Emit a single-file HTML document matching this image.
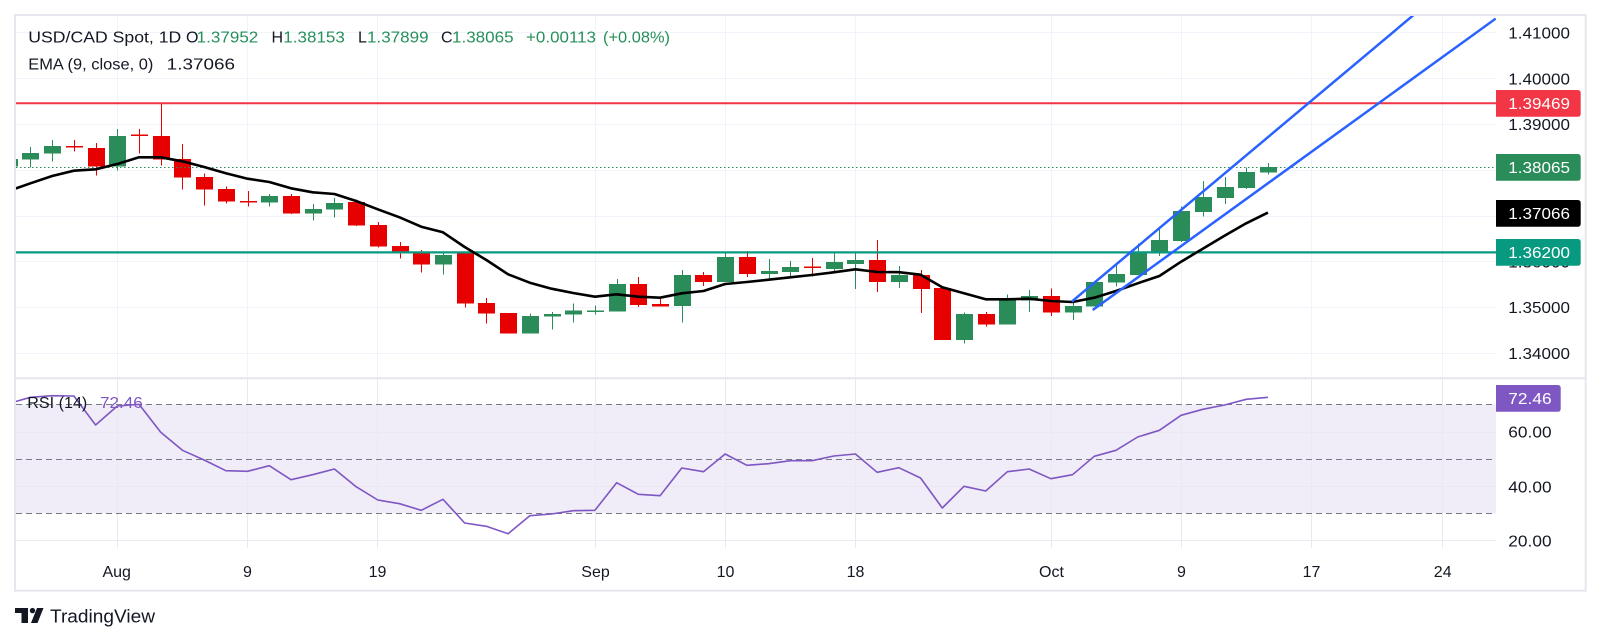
<!DOCTYPE html>
<html>
<head>
<meta charset="utf-8">
<style>
html,body{margin:0;padding:0;background:#fff;}
svg{display:block;}
text{font-family:"Liberation Sans",sans-serif;}
</style>
</head>
<body>
<svg width="1601" height="644" viewBox="0 0 1601 644" xmlns="http://www.w3.org/2000/svg">
<defs>
<clipPath id="plot"><rect x="16" y="16" width="1480" height="361"/></clipPath>
<clipPath id="rsi"><rect x="16" y="379" width="1480" height="169"/></clipPath>
</defs>
<rect x="0" y="0" width="1601" height="644" fill="#fff"/>

<!-- grid main -->
<g stroke="#f0f3fa" stroke-width="1" shape-rendering="crispEdges">
<line x1="16" y1="32.5" x2="1496" y2="32.5"/>
<line x1="16" y1="78.5" x2="1496" y2="78.5"/>
<line x1="16" y1="124.5" x2="1496" y2="124.5"/>
<line x1="16" y1="170.5" x2="1496" y2="170.5"/>
<line x1="16" y1="216.5" x2="1496" y2="216.5"/>
<line x1="16" y1="261.5" x2="1496" y2="261.5"/>
<line x1="16" y1="307.5" x2="1496" y2="307.5"/>
<line x1="16" y1="353.5" x2="1496" y2="353.5"/>
<line x1="117.5" y1="16" x2="117.5" y2="377"/>
<line x1="247.5" y1="16" x2="247.5" y2="377"/>
<line x1="377.5" y1="16" x2="377.5" y2="377"/>
<line x1="595.5" y1="16" x2="595.5" y2="377"/>
<line x1="725.5" y1="16" x2="725.5" y2="377"/>
<line x1="855.5" y1="16" x2="855.5" y2="377"/>
<line x1="1051.5" y1="16" x2="1051.5" y2="377"/>
<line x1="1181.5" y1="16" x2="1181.5" y2="377"/>
<line x1="1311.5" y1="16" x2="1311.5" y2="377"/>
<line x1="1442.5" y1="16" x2="1442.5" y2="377"/>
</g>

<!-- RSI band & grid -->
<rect x="16" y="404.3" width="1480" height="109" fill="#f0ecf8"/>
<g stroke="#ebe8f2" stroke-width="1" shape-rendering="crispEdges">
<line x1="16" y1="432.5" x2="1496" y2="432.5"/>
<line x1="16" y1="486.5" x2="1496" y2="486.5"/>
<line x1="16" y1="540.5" x2="1496" y2="540.5"/>
<line x1="117.5" y1="379" x2="117.5" y2="548"/>
<line x1="247.5" y1="379" x2="247.5" y2="548"/>
<line x1="377.5" y1="379" x2="377.5" y2="548"/>
<line x1="595.5" y1="379" x2="595.5" y2="548"/>
<line x1="725.5" y1="379" x2="725.5" y2="548"/>
<line x1="855.5" y1="379" x2="855.5" y2="548"/>
<line x1="1051.5" y1="379" x2="1051.5" y2="548"/>
<line x1="1181.5" y1="379" x2="1181.5" y2="548"/>
<line x1="1311.5" y1="379" x2="1311.5" y2="548"/>
<line x1="1442.5" y1="379" x2="1442.5" y2="548"/>
</g>
<g stroke="#787b86" stroke-width="1" stroke-dasharray="6 4" shape-rendering="crispEdges">
<line x1="16" y1="404.5" x2="1496" y2="404.5"/>
<line x1="16" y1="459.5" x2="1496" y2="459.5"/>
<line x1="16" y1="513.5" x2="1496" y2="513.5"/>
</g>

<!-- candles -->
<g clip-path="url(#plot)" shape-rendering="crispEdges">
<g fill="#2a8c58">
<rect x="9" y="157" width="1" height="11"/><rect x="1" y="159" width="17" height="7.7"/>
<rect x="30" y="147" width="1" height="20.7"/><rect x="22" y="153" width="17" height="6.7"/>
<rect x="52" y="140" width="1" height="21.7"/><rect x="44" y="146" width="17" height="7.7"/>
<rect x="117" y="129" width="1" height="41.7"/><rect x="109" y="136" width="17" height="30.7"/>
<rect x="269" y="194" width="1" height="12.7"/><rect x="261" y="196" width="17" height="6.7"/>
<rect x="313" y="204" width="1" height="16.7"/><rect x="305" y="209" width="17" height="4.7"/>
<rect x="334" y="198" width="1" height="19.7"/><rect x="326" y="203" width="17" height="6.7"/>
<rect x="443" y="253.3" width="1" height="21.4"/><rect x="435" y="255" width="17" height="9.7"/>
<rect x="530" y="313.3" width="1" height="20.4"/><rect x="522" y="316" width="17" height="17.7"/>
<rect x="552" y="312" width="1" height="17.7"/><rect x="544" y="314" width="17" height="2.7"/>
<rect x="573" y="303.3" width="1" height="19.4"/><rect x="565" y="310.7" width="17" height="4"/>
<rect x="595" y="305.3" width="1" height="9.4"/><rect x="587" y="310.7" width="17" height="1.5"/>
<rect x="617" y="279" width="1" height="32.7"/><rect x="609" y="284" width="17" height="27.7"/>
<rect x="682" y="270" width="1" height="52.7"/><rect x="674" y="275" width="17" height="31"/>
<rect x="725" y="253.7" width="1" height="28.3"/><rect x="717" y="257" width="17" height="25"/>
<rect x="769" y="259" width="1" height="19.3"/><rect x="761" y="271" width="17" height="3"/>
<rect x="790" y="261" width="1" height="17.3"/><rect x="782" y="267" width="17" height="5"/>
<rect x="834" y="253.3" width="1" height="17.7"/><rect x="826" y="262" width="17" height="7"/>
<rect x="855" y="253.3" width="1" height="35.7"/><rect x="847" y="260" width="17" height="4"/>
<rect x="899" y="266" width="1" height="22"/><rect x="891" y="275" width="17" height="7"/>
<rect x="964" y="312.7" width="1" height="30.6"/><rect x="956" y="314" width="17" height="26"/>
<rect x="1007" y="294.7" width="1" height="30"/><rect x="999" y="300" width="17" height="24.7"/>
<rect x="1029" y="290" width="1" height="22"/><rect x="1021" y="296" width="17" height="4.7"/>
<rect x="1073" y="300.7" width="1" height="19.3"/><rect x="1065" y="306" width="17" height="6.7"/>
<rect x="1094" y="282" width="1" height="24.7"/><rect x="1086" y="282" width="17" height="24.7"/>
<rect x="1116" y="265.3" width="1" height="21.4"/><rect x="1108" y="274" width="17" height="8.7"/>
<rect x="1138" y="243.3" width="1" height="31.7"/><rect x="1130" y="251.3" width="17" height="23.7"/>
<rect x="1159" y="228.7" width="1" height="27.3"/><rect x="1151" y="240" width="17" height="13.3"/>
<rect x="1181" y="206.7" width="1" height="35.3"/><rect x="1173" y="211" width="17" height="30"/>
<rect x="1203" y="181" width="1" height="35.7"/><rect x="1195" y="197" width="17" height="15"/>
<rect x="1225" y="177" width="1" height="27"/><rect x="1217" y="187" width="17" height="11"/>
<rect x="1246" y="167.3" width="1" height="21.7"/><rect x="1238" y="172" width="17" height="16"/>
<rect x="1268" y="163" width="1" height="11.7"/><rect x="1260" y="167" width="17" height="5.3"/>
</g>
<g fill="#e60000">
<rect x="74" y="140" width="1" height="11.7"/><rect x="66" y="146" width="17" height="1.7"/>
<rect x="96" y="143" width="1" height="32.7"/><rect x="88" y="148" width="17" height="18.7"/>
<rect x="139" y="129" width="1" height="24.7"/><rect x="131" y="134.5" width="17" height="1.5"/>
<rect x="161" y="103.3" width="1" height="62.4"/><rect x="153" y="136" width="17" height="23.7"/>
<rect x="182" y="144" width="1" height="45.7"/><rect x="174" y="159" width="17" height="18.7"/>
<rect x="204" y="173.7" width="1" height="32"/><rect x="196" y="177" width="17" height="12.7"/>
<rect x="226" y="186.3" width="1" height="17.4"/><rect x="218" y="189" width="17" height="12.7"/>
<rect x="248" y="191" width="1" height="15.7"/><rect x="240" y="201" width="17" height="1.7"/>
<rect x="291" y="194" width="1" height="20"/><rect x="283" y="196" width="17" height="17.7"/>
<rect x="356" y="199.3" width="1" height="26.7"/><rect x="348" y="202" width="17" height="23.7"/>
<rect x="378" y="222" width="1" height="25.7"/><rect x="370" y="225" width="17" height="21.7"/>
<rect x="400" y="242" width="1" height="16.7"/><rect x="392" y="246" width="17" height="6.7"/>
<rect x="421" y="250" width="1" height="22.7"/><rect x="413" y="252" width="17" height="12.7"/>
<rect x="465" y="252.7" width="1" height="55"/><rect x="457" y="253.3" width="17" height="50.4"/>
<rect x="486" y="298" width="1" height="25.7"/><rect x="478" y="303" width="17" height="10.7"/>
<rect x="508" y="313" width="1" height="20.7"/><rect x="500" y="313" width="17" height="20.7"/>
<rect x="638" y="277" width="1" height="30"/><rect x="630" y="284" width="17" height="21"/>
<rect x="660" y="296.7" width="1" height="10"/><rect x="652" y="304" width="17" height="2.7"/>
<rect x="703" y="272" width="1" height="14"/><rect x="695" y="275" width="17" height="7"/>
<rect x="747" y="251" width="1" height="26"/><rect x="739" y="257" width="17" height="17"/>
<rect x="812" y="258" width="1" height="18.7"/><rect x="804" y="266.7" width="17" height="1.5"/>
<rect x="877" y="240" width="1" height="52"/><rect x="869" y="260" width="17" height="22"/>
<rect x="921" y="270" width="1" height="43"/><rect x="913" y="275" width="17" height="14"/>
<rect x="942" y="288" width="1" height="52"/><rect x="934" y="288" width="17" height="52"/>
<rect x="986" y="312" width="1" height="14.7"/><rect x="978" y="314" width="17" height="10.7"/>
<rect x="1051" y="288.7" width="1" height="27.3"/><rect x="1043" y="296" width="17" height="16.7"/>
</g>
</g>

<!-- horizontal levels -->
<line x1="16" y1="103.3" x2="1496" y2="103.3" stroke="#f23645" stroke-width="2"/>
<line x1="16" y1="252.4" x2="1496" y2="252.4" stroke="#089981" stroke-width="2.2"/>
<line x1="16" y1="167.5" x2="1496" y2="167.5" stroke="#2a8c58" stroke-width="1" stroke-dasharray="1.5 2.5"/>

<!-- EMA -->
<g clip-path="url(#plot)">
<polyline fill="none" stroke="#000" stroke-width="2.6" stroke-linejoin="round" points="8.75,191 30.46,183.3 52.17,176 73.88,170.7 95.59,169.3 117.3,164 139.01,157.3 160.72,157.3 182.43,161.3 204.14,167 225.85,173.3 247.56,178.7 269.27,182 290.98,188.3 312.69,192.3 334.4,194 356.11,201 377.82,209.3 399.53,217.3 421.24,226.7 442.95,232.3 464.66,247 486.37,260 508.08,274.3 529.79,282.7 551.5,288.7 573.21,293 594.92,296.7 616.63,294.3 638.34,296.7 660.05,297.7 681.76,293.3 703.47,291 725.18,284 746.89,282 768.6,279.7 790.31,277.3 812.02,275 833.73,272.3 855.44,269.3 877.15,272 898.86,272.2 920.57,274.7 942.28,287.2 963.99,293.3 985.7,299.3 1007.41,299.3 1029.12,298.7 1050.83,301 1072.54,302 1094.25,297.7 1115.96,291 1137.67,283.3 1159.38,276 1181.09,261.7 1202.8,248.7 1224.51,235.7 1246.22,223.3 1267.93,212.6"/>
<!-- channel -->
<line x1="1071.7" y1="301.7" x2="1413.6" y2="15" stroke="#2962ff" stroke-width="2.5"/>
<line x1="1092.7" y1="310" x2="1495.7" y2="18.6" stroke="#2962ff" stroke-width="2.5"/>
</g>

<!-- RSI line -->
<g clip-path="url(#rsi)">
<polyline fill="none" stroke="#7e57c2" stroke-width="1.6" stroke-linejoin="round" points="8.75,403.5 30.46,397.3 52.17,395.7 73.88,396 95.59,425 117.3,406 139.01,404.3 160.72,432.3 182.43,450.3 204.14,460 225.85,470.7 247.56,471.3 269.27,465.7 290.98,479.7 312.69,474.7 334.4,469 356.11,486.7 377.82,500 399.53,503.7 421.24,510.3 442.95,499.3 464.66,523 486.37,526.3 508.08,533.7 529.79,515.7 551.5,514 573.21,510.7 594.92,510.3 616.63,482.7 638.34,494.3 660.05,495.7 681.76,468 703.47,471.7 725.18,454 746.89,465.3 768.6,463.7 790.31,460.7 812.02,460.7 833.73,456 855.44,454 877.15,472.3 898.86,467.7 920.57,478 942.28,508 963.99,486.3 985.7,491 1007.41,471.7 1029.12,469 1050.83,478.7 1072.54,474.7 1094.25,456.3 1115.96,450.3 1137.67,437 1159.38,430.3 1181.09,415.3 1202.8,409.3 1224.51,405 1246.22,399.3 1267.93,397.3"/>
</g>

<!-- frame -->
<rect x="15" y="15" width="1570.7" height="575.7" fill="none" stroke="#e6e6ee" stroke-width="2"/>
<line x1="15" y1="378.3" x2="1586" y2="378.3" stroke="#e6e6ee" stroke-width="2"/>

<!-- header -->
<g font-size="16" fill="#131722">
<text x="28.3" y="42.7" textLength="153" lengthAdjust="spacingAndGlyphs">USD/CAD Spot, 1D</text>
<text x="186" y="42.7">O</text>
<text x="271.5" y="42.7">H</text>
<text x="358" y="42.7">L</text>
<text x="441" y="42.7">C</text>
<text x="28.3" y="69.4" textLength="125" lengthAdjust="spacingAndGlyphs">EMA (9, close, 0)</text>
<text x="166.7" y="69.4" textLength="68.3" lengthAdjust="spacingAndGlyphs">1.37066</text>
</g>
<g font-size="16" fill="#26905a">
<text x="196.7" y="42.7" textLength="61.6" lengthAdjust="spacingAndGlyphs">1.37952</text>
<text x="283.3" y="42.7" textLength="61.6" lengthAdjust="spacingAndGlyphs">1.38153</text>
<text x="367" y="42.7" textLength="61.6" lengthAdjust="spacingAndGlyphs">1.37899</text>
<text x="452" y="42.7" textLength="61.6" lengthAdjust="spacingAndGlyphs">1.38065</text>
<text x="526" y="42.7" textLength="70" lengthAdjust="spacingAndGlyphs">+0.00113</text>
<text x="603" y="42.7" textLength="67" lengthAdjust="spacingAndGlyphs">(+0.08%)</text>
</g>

<!-- price axis labels -->
<g font-size="16" fill="#131722">
<text x="1508.3" y="38.6" textLength="61.7" lengthAdjust="spacingAndGlyphs">1.41000</text>
<text x="1508.3" y="84.4" textLength="61.7" lengthAdjust="spacingAndGlyphs">1.40000</text>
<text x="1508.3" y="130.2" textLength="61.7" lengthAdjust="spacingAndGlyphs">1.39000</text>
<text x="1508.3" y="176" textLength="61.7" lengthAdjust="spacingAndGlyphs">1.38000</text>
<text x="1508.3" y="221.8" textLength="61.7" lengthAdjust="spacingAndGlyphs">1.37000</text>
<text x="1508.3" y="267.6" textLength="61.7" lengthAdjust="spacingAndGlyphs">1.36000</text>
<text x="1508.3" y="313.2" textLength="61.7" lengthAdjust="spacingAndGlyphs">1.35000</text>
<text x="1508.3" y="359" textLength="61.7" lengthAdjust="spacingAndGlyphs">1.34000</text>
</g>

<!-- price boxes -->
<path d="M1496,90 H1577.7 Q1580.7,90 1580.7,93 V113.7 Q1580.7,116.7 1577.7,116.7 H1496 Z" fill="#f23645"/>
<path d="M1496,154 H1577.7 Q1580.7,154 1580.7,157 V177.7 Q1580.7,180.7 1577.7,180.7 H1496 Z" fill="#2a8c58"/>
<path d="M1496,200 H1577.7 Q1580.7,200 1580.7,203 V223.7 Q1580.7,226.7 1577.7,226.7 H1496 Z" fill="#000"/>
<path d="M1496,239 H1577.7 Q1580.7,239 1580.7,242 V262.7 Q1580.7,265.7 1577.7,265.7 H1496 Z" fill="#089981"/>
<g font-size="16" fill="#fff">
<text x="1508.3" y="109" textLength="61.7" lengthAdjust="spacingAndGlyphs">1.39469</text>
<text x="1508.3" y="173" textLength="61.7" lengthAdjust="spacingAndGlyphs">1.38065</text>
<text x="1508.3" y="219" textLength="61.7" lengthAdjust="spacingAndGlyphs">1.37066</text>
<text x="1508.3" y="258" textLength="61.7" lengthAdjust="spacingAndGlyphs">1.36200</text>
</g>

<!-- RSI axis -->
<path d="M1496,385 H1557.7 Q1560.7,385 1560.7,388 V408.7 Q1560.7,411.7 1557.7,411.7 H1496 Z" fill="#7e57c2"/>
<text x="1508.3" y="404" font-size="16" fill="#fff" textLength="43.3" lengthAdjust="spacingAndGlyphs">72.46</text>
<g font-size="16" fill="#131722">
<text x="1508.3" y="437.4" textLength="43.3" lengthAdjust="spacingAndGlyphs">60.00</text>
<text x="1508.3" y="492.4" textLength="43.3" lengthAdjust="spacingAndGlyphs">40.00</text>
<text x="1508.3" y="546.4" textLength="43.3" lengthAdjust="spacingAndGlyphs">20.00</text>
</g>

<!-- RSI legend -->
<text x="27.3" y="408" font-size="16" fill="#131722" textLength="60" lengthAdjust="spacingAndGlyphs">RSI (14)</text>
<text x="100" y="408" font-size="16" fill="#7e57c2" textLength="42.7" lengthAdjust="spacingAndGlyphs">72.46</text>

<!-- date labels -->
<g font-size="16" fill="#131722" text-anchor="middle">
<text x="116.7" y="577">Aug</text>
<text x="247.5" y="577">9</text>
<text x="377.5" y="577">19</text>
<text x="595.5" y="577">Sep</text>
<text x="725.5" y="577">10</text>
<text x="855.5" y="577">18</text>
<text x="1051.5" y="577">Oct</text>
<text x="1181.5" y="577">9</text>
<text x="1311.5" y="577">17</text>
<text x="1442.7" y="577">24</text>
</g>

<!-- TradingView logo -->
<g fill="#131722">
<path d="M15,608 H28 V623 H21.5 V613 H15 Z"/>
<circle cx="32.5" cy="610.6" r="2.7"/>
<path d="M37,608 H43.5 L37.5,623 H31 Z"/>
</g>
<text x="50" y="622.5" font-size="18.5" fill="#131722" textLength="105" lengthAdjust="spacingAndGlyphs">TradingView</text>
</svg>
</body>
</html>
